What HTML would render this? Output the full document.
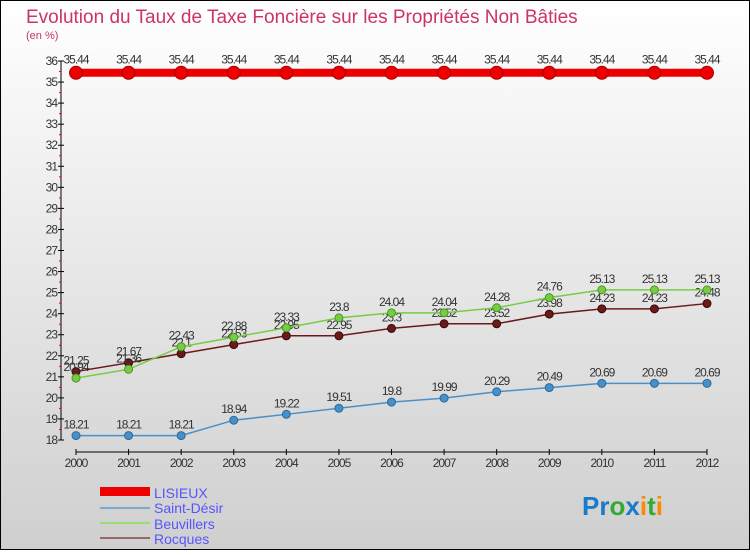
<!DOCTYPE html>
<html><head><meta charset="utf-8"><style>
body{margin:0;width:750px;height:550px;overflow:hidden;font-family:"Liberation Sans",sans-serif}
</style></head><body>
<svg id="c" width="750" height="550" xmlns="http://www.w3.org/2000/svg">
<defs><linearGradient id="bg" x1="0" y1="0" x2="0" y2="1"><stop offset="0" stop-color="#ffffff"/><stop offset="1" stop-color="#cfcfcf"/></linearGradient></defs>
<rect x="0.5" y="0.5" width="749" height="549" fill="url(#bg)" stroke="#000"/>
<text x="26" y="23" font-size="19" fill="#cc3366">Evolution du Taux de Taxe Foncière sur les Propriétés Non Bâties</text>
<text x="26" y="39" font-size="11" fill="#cc3366">(en %)</text>
<g id="axes"></g><g id="series"></g>
<g>
<rect x="100" y="487" width="50" height="9" fill="#ee0000"/>
<text x="154" y="498" font-size="14" fill="#5555ff">LISIEUX</text>
<rect x="100" y="507" width="50" height="2" fill="#7aaacc"/>
<text x="154" y="513" font-size="14" fill="#5555ff">Saint-Désir</text>
<rect x="100" y="522" width="50" height="2" fill="#99dd77"/>
<text x="154" y="529" font-size="14" fill="#5555ff">Beuvillers</text>
<rect x="100" y="537" width="50" height="2" fill="#996666"/>
<text x="154" y="544" font-size="14" fill="#5555ff">Rocques</text>
</g>
<text x="582" y="515" font-size="26" font-weight="bold"><tspan fill="#1a7acc">Pr</tspan><tspan fill="#33aa33">o</tspan><tspan fill="#1a7acc">x</tspan><tspan fill="#ff8800">i</tspan><tspan fill="#33aa33">t</tspan><tspan fill="#ff8800">i</tspan></text>
</svg>
<script>
const years=[2000,2001,2002,2003,2004,2005,2006,2007,2008,2009,2010,2011,2012];
const lisieux=[35.44,35.44,35.44,35.44,35.44,35.44,35.44,35.44,35.44,35.44,35.44,35.44,35.44];
const saintDesir=[18.21,18.21,18.21,18.94,19.22,19.51,19.8,19.99,20.29,20.49,20.69,20.69,20.69];
const beuvillers=[20.94,21.36,22.43,22.88,23.33,23.8,24.04,24.04,24.28,24.76,25.13,25.13,25.13];
const rocques=[21.25,21.67,22.1,22.53,22.95,22.95,23.3,23.52,23.52,23.98,24.23,24.23,24.48];
const yTicks=[18,19,20,21,22,23,24,25,26,27,28,29,30,31,32,33,34,35,36];
const NS="http://www.w3.org/2000/svg";
const X=i=>76+i*(707-76)/(years.length-1);
const Y=v=>440-(v-18)*(440-61)/18;
function mk(p,t,a){const e=document.createElementNS(NS,t);for(const k in a)e.setAttribute(k,a[k]);p.appendChild(e);return e;}
const ax=document.getElementById('axes'),sg=document.getElementById('series');
let l=mk(ax,'line',{x1:61,y1:Y(36),x2:61,y2:Y(18),stroke:'#000'});


l=mk(ax,'line',{x1:X(0),y1:452,x2:X(12),y2:452,stroke:'#000'});


yTicks.forEach((v,i)=>{
 mk(ax,'line',{x1:58,y1:Y(v),x2:64,y2:Y(v),stroke:'#000'});
 if(i<yTicks.length-1)mk(ax,'line',{x1:59,y1:Y(v+0.5),x2:61,y2:Y(v+0.5),stroke:'#e00'});
 const t=mk(ax,'text',{x:57,y:Y(v)+4,'font-size':12,fill:'#333','text-anchor':'end','letter-spacing':'-1'});
 t.textContent=v;
 
 
});
years.forEach((y,i)=>{
 mk(ax,'line',{x1:X(i),y1:449,x2:X(i),y2:455,stroke:'#000'});
 const t=mk(ax,'text',{x:X(i),y:467,'font-size':12,fill:'#333','text-anchor':'middle','letter-spacing':'-1'});
 t.textContent=y;
 
 
});
function series(name,data,color,dark,w,r){
 const g=mk(sg,'g',{});
 
 
 const pl=mk(g,'polyline',{points:data.map((v,i)=>X(i)+','+Y(v)).join(' '),fill:'none',stroke:color,'stroke-width':w});
 
 
 data.forEach((v,i)=>{
  const c=mk(g,'circle',{cx:X(i),cy:Y(v),r:r,fill:color,stroke:dark,'stroke-width':1});
  
  
  const t=mk(g,'text',{x:X(i),y:Y(v)-r-3,'font-size':12,fill:'#333','text-anchor':'middle','letter-spacing':'-1'});
  t.textContent=v;
  
  
 });
}
series('saint-desir',saintDesir,'#4a90c8','#2a6a9a',1.5,4);
series('rocques',rocques,'#6b1a1a','#3a0a0a',1.5,4);
series('beuvillers',beuvillers,'#77cc44','#449922',1.5,4);
series('lisieux',lisieux,'#ee0000','#aa0000',8,6.5);
</script>
</body></html>
